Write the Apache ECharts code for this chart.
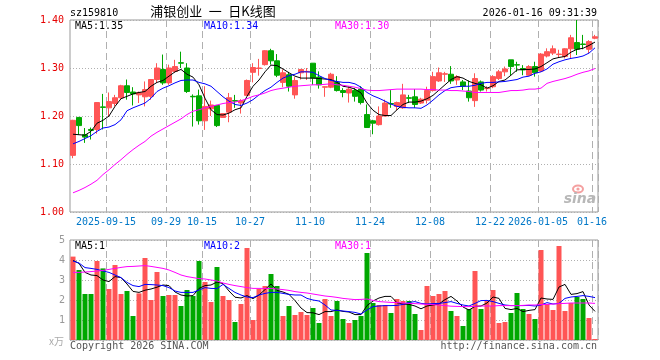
<!DOCTYPE html>
<html><head><meta charset="utf-8">
<script src="https://cdn.jsdelivr.net/npm/echarts@6/dist/echarts.min.js"></script>
<style>html,body{margin:0;padding:0;background:#fff}#c{width:660px;height:360px}</style>
</head><body><div id="c"></div>
<script>
var dates = ['2025-09-05','2025-09-08','2025-09-09','2025-09-10','2025-09-11','2025-09-12','2025-09-15','2025-09-16','2025-09-17','2025-09-18','2025-09-19','2025-09-22','2025-09-23','2025-09-24','2025-09-25','2025-09-26','2025-09-29','2025-09-30',
'2025-10-09','2025-10-10','2025-10-13','2025-10-14','2025-10-15','2025-10-16','2025-10-17','2025-10-20','2025-10-21','2025-10-22','2025-10-23','2025-10-24','2025-10-27','2025-10-28','2025-10-29','2025-10-30','2025-10-31',
'2025-11-03','2025-11-04','2025-11-05','2025-11-06','2025-11-07','2025-11-10','2025-11-11','2025-11-12','2025-11-13','2025-11-14','2025-11-17','2025-11-18','2025-11-19','2025-11-20','2025-11-21','2025-11-24','2025-11-25','2025-11-26','2025-11-27','2025-11-28',
'2025-12-01','2025-12-02','2025-12-03','2025-12-04','2025-12-05','2025-12-08','2025-12-09','2025-12-10','2025-12-11','2025-12-12','2025-12-15','2025-12-16','2025-12-17','2025-12-18','2025-12-19','2025-12-22','2025-12-23','2025-12-24','2025-12-25','2025-12-26','2025-12-29','2025-12-30','2025-12-31',
'2026-01-05','2026-01-06','2026-01-07','2026-01-08','2026-01-09','2026-01-12','2026-01-13','2026-01-14','2026-01-15','2026-01-16'];

var opens  = [1.118,1.197,1.161,1.172,1.172,1.219,1.217,1.226,1.238,1.263,1.250,1.244,1.240,1.241,1.276,1.297,1.269,1.293,1.311,1.300,1.241,1.242,1.190,1.215,1.222,
1.197,1.208,1.232,1.227,1.243,1.291,1.299,1.307,1.336,1.315,1.270,1.286,1.244,1.290,1.292,1.310,1.281,1.260,1.260,1.270,1.253,1.248,1.253,1.256,1.203,1.190,1.182,1.200,1.226,1.220,1.217,1.238,1.240,
1.227,1.233,1.253,1.273,1.287,1.287,1.275,1.271,1.252,1.232,1.271,1.257,1.261,1.278,1.292,1.317,1.307,1.299,1.285,1.303,1.294,1.325,1.331,1.328,1.324,1.340,1.353,1.350,1.339,1.362];
var closes = [1.191,1.180,1.156,1.170,1.228,1.218,1.230,1.238,1.263,1.249,1.246,1.249,1.255,1.276,1.300,1.269,1.300,1.303,1.310,1.251,1.240,1.190,1.220,1.223,1.180,
1.205,1.238,1.231,1.232,1.274,1.301,1.300,1.336,1.315,1.285,1.290,1.262,1.274,1.297,1.293,1.279,1.265,1.261,1.287,1.253,1.249,1.256,1.241,1.228,1.176,1.185,1.200,1.227,1.225,1.228,1.244,1.237,1.224,
1.235,1.253,1.282,1.290,1.288,1.273,1.282,1.262,1.238,1.278,1.254,1.258,1.282,1.292,1.298,1.303,1.306,1.296,1.303,1.290,1.329,1.334,1.340,1.329,1.340,1.363,1.339,1.349,1.355,1.365];
var lows   = [1.112,1.161,1.144,1.151,1.163,1.172,1.198,1.220,1.234,1.234,1.222,1.227,1.220,1.234,1.269,1.265,1.265,1.290,1.300,1.248,1.178,1.182,1.171,1.200,1.177,
1.196,1.187,1.217,1.205,1.242,1.270,1.284,1.305,1.307,1.281,1.260,1.251,1.236,1.276,1.275,1.265,1.257,1.240,1.258,1.251,1.239,1.228,1.230,1.224,1.175,1.162,1.180,1.199,1.217,1.212,1.215,1.227,1.217,
1.225,1.226,1.251,1.271,1.271,1.267,1.265,1.254,1.230,1.219,1.251,1.251,1.258,1.275,1.283,1.285,1.292,1.285,1.284,1.282,1.292,1.322,1.327,1.322,1.320,1.320,1.327,1.339,1.331,1.360];
var highs  = [1.192,1.198,1.175,1.176,1.229,1.246,1.249,1.244,1.265,1.276,1.260,1.251,1.272,1.277,1.310,1.328,1.307,1.317,1.334,1.310,1.245,1.255,1.262,1.232,1.223,
1.206,1.248,1.244,1.235,1.276,1.310,1.319,1.337,1.340,1.329,1.297,1.292,1.281,1.298,1.300,1.310,1.293,1.262,1.290,1.283,1.258,1.262,1.258,1.262,1.224,1.192,1.220,1.234,1.254,1.230,1.267,1.244,1.256,
1.238,1.261,1.292,1.301,1.292,1.304,1.285,1.275,1.274,1.289,1.274,1.262,1.285,1.296,1.303,1.317,1.313,1.306,1.306,1.313,1.331,1.341,1.347,1.338,1.341,1.369,1.400,1.369,1.358,1.369];

var ma5  = [1.162,1.161,1.160,1.168,1.185,1.191,1.200,1.220,1.236,1.241,1.246,1.249,1.251,1.262,1.270,1.274,1.283,1.292,1.297,1.287,1.281,1.265,1.237,1.213,1.203,
1.202,1.206,1.213,1.217,1.241,1.262,1.275,1.292,1.306,1.305,1.298,1.290,1.283,1.279,1.279,1.279,1.278,1.277,1.276,1.270,1.262,1.260,1.256,1.248,1.227,1.212,1.203,1.201,1.201,1.213,1.224,1.229,1.229,
1.231,1.236,1.243,1.254,1.265,1.276,1.282,1.279,1.272,1.268,1.265,1.258,1.263,1.272,1.275,1.285,1.296,1.297,1.297,1.298,1.303,1.311,1.319,1.322,1.324,1.333,1.339,1.341,1.347,1.354];
var ma10 = [1.142,1.147,1.153,1.159,1.168,1.175,1.177,1.182,1.192,1.211,1.217,1.222,1.227,1.237,1.251,1.258,1.263,1.269,1.274,1.275,1.275,1.270,1.267,1.262,1.251,
1.240,1.231,1.224,1.222,1.227,1.234,1.244,1.253,1.260,1.270,1.279,1.284,1.287,1.292,1.292,1.291,1.284,1.278,1.274,1.272,1.270,1.270,1.267,1.260,1.249,1.242,1.237,1.231,1.225,1.220,1.218,1.217,1.217,
1.216,1.223,1.233,1.244,1.253,1.259,1.261,1.262,1.262,1.264,1.268,1.270,1.270,1.271,1.272,1.274,1.276,1.281,1.283,1.289,1.292,1.298,1.308,1.313,1.317,1.320,1.322,1.325,1.331,1.342];
var ma30 = [1.040,1.045,1.051,1.058,1.066,1.078,1.088,1.099,1.109,1.120,1.130,1.139,1.147,1.158,1.166,1.173,1.180,1.187,1.194,1.203,1.210,1.213,1.217,1.220,1.223,
1.226,1.228,1.229,1.232,1.236,1.241,1.244,1.248,1.253,1.256,1.258,1.260,1.262,1.263,1.264,1.265,1.265,1.266,1.267,1.265,1.264,1.262,1.260,1.257,1.254,1.253,1.253,1.254,1.255,1.256,1.256,1.256,1.256,
1.256,1.255,1.255,1.254,1.254,1.253,1.253,1.252,1.251,1.249,1.249,1.249,1.249,1.249,1.251,1.253,1.253,1.254,1.256,1.256,1.258,1.268,1.272,1.275,1.278,1.282,1.287,1.291,1.294,1.299];

var volumes = [4.17,3.5,2.3,2.3,3.95,3.58,2.55,3.75,2.3,2.45,1.2,2.33,4.1,2.0,3.4,2.2,2.25,2.25,1.7,2.5,2.2,3.95,2.9,1.9,3.65,
2.2,2.0,0.9,1.8,4.6,1.0,2.55,2.7,3.3,2.7,1.2,1.7,1.25,1.4,1.25,1.6,0.85,2.05,1.2,1.95,1.05,0.85,1.0,1.2,4.35,1.85,1.75,1.75,1.35,2.05,1.95,1.95,1.3,
0.5,2.7,2.2,2.3,2.45,1.45,1.2,0.7,1.55,3.45,1.55,1.95,2.5,0.85,0.9,1.35,2.35,1.55,1.3,1.05,4.5,1.8,1.5,4.7,1.45,1.85,2.15,2.05,1.1,0.05];
var vma5  = [3.98,3.83,3.38,3.25,3.22,3.0,2.92,3.17,3.12,2.8,2.43,2.38,2.49,2.55,2.64,2.75,2.72,2.4,2.25,2.2,2.22,2.58,2.72,2.75,2.9,
2.82,2.45,2.14,2.1,2.22,2.07,2.25,2.52,2.8,2.48,2.4,2.28,1.97,1.6,1.37,1.36,1.27,1.42,1.42,1.5,1.43,1.4,1.27,1.27,1.72,1.95,2.1,2.18,2.18,1.86,1.8,1.78,1.7,
1.56,1.7,1.75,1.8,2.02,2.18,1.95,1.65,1.5,1.68,1.7,1.85,2.15,2.08,1.58,1.52,1.58,1.42,1.48,1.52,2.1,2.05,2.03,2.65,2.78,2.28,2.32,2.42,1.75,1.43];
var vma10 = [3.95,3.85,3.62,3.58,3.53,3.45,3.38,3.25,3.12,2.88,2.72,2.67,2.78,2.77,2.75,2.72,2.62,2.45,2.38,2.38,2.38,2.5,2.62,2.58,2.57,
2.78,2.58,2.38,2.25,2.15,2.12,2.25,2.33,2.38,2.38,2.33,2.28,2.25,2.25,2.08,2.0,1.95,1.75,1.5,1.48,1.45,1.42,1.38,1.3,1.5,1.67,1.7,1.72,1.72,1.73,1.78,1.88,1.92,
1.83,1.8,1.82,1.83,1.87,1.92,1.83,1.75,1.7,1.83,1.97,1.98,1.92,1.83,1.75,1.72,1.72,1.72,1.73,1.7,1.75,1.87,1.8,1.83,2.08,2.15,2.18,2.22,2.18,2.12];
var vma30 = [3.38,3.38,3.4,3.42,3.45,3.48,3.53,3.58,3.63,3.67,3.68,3.7,3.72,3.68,3.63,3.58,3.5,3.38,3.25,3.17,3.12,3.07,3.05,3.0,2.95,
2.85,2.78,2.72,2.67,2.62,2.58,2.58,2.58,2.58,2.55,2.52,2.48,2.42,2.38,2.35,2.3,2.25,2.2,2.17,2.13,2.08,2.05,2.02,2.03,2.05,1.98,1.92,1.9,1.88,1.87,1.85,1.83,1.82,
1.8,1.78,1.77,1.75,1.72,1.69,1.68,1.67,1.67,1.68,1.7,1.7,1.7,1.72,1.72,1.72,1.72,1.73,1.75,1.75,1.77,1.78,1.8,1.82,1.83,1.85,1.85,1.85,1.85,1.83];

var tickDates  = ['2025-09-15','2025-09-29','2025-10-15','2025-10-27','2025-11-10','2025-11-24','2025-12-08','2025-12-22','2026-01-05','2026-01-16'];
var tickLabels = ['2025-09-15','09-29','10-15','10-27','11-10','11-24','12-08','12-22','2026-01-05','01-16'];
var priceTicks = [1.00,1.10,1.20,1.30,1.40];
var volTicks = [0,1,2,3,4,5];

var RED = '#ff5555', GREEN = '#00a800';
var MONO = '"DejaVu Sans Mono", "Liberation Mono", monospace';
var kdata = dates.map(function(d,i){ return [opens[i], closes[i], lows[i], highs[i]]; });
function isTick(idx){ return tickDates.indexOf(dates[idx]) >= 0; }
function isUp(i){ return closes[i] >= opens[i]; }

var chart = echarts.init(document.getElementById('c'), null, {renderer:'canvas'});
var vsplit = {show:true, interval:function(i){return isTick(i);}, lineStyle:{color:'#b0b0b0', type:[7,4], width:1}};
var hsplit = {show:true, lineStyle:{color:'#b0b0b0', type:[1,2], width:1}};
function mkLine(data, color, xi, yi){
  return {type:'line', data:data, xAxisIndex:xi, yAxisIndex:yi, showSymbol:false, symbol:'none', silent:true,
    lineStyle:{color:color, width:1}, itemStyle:{color:color}, z:5};
}
function txt(x, y, s, color, align, font){
  return {type:'text', x:x, y:y, silent:true, z:100, style:{text:s, fill:color, align:align||'left', verticalAlign:'middle', font:font||('10px ' + MONO)}};
}

chart.setOption({
  animation:false,
  backgroundColor:'#fff',
  grid:[
    {left:70, top:20, width:528, height:192, show:true, borderColor:'#999', borderWidth:1, backgroundColor:'transparent'},
    {left:70, top:240, width:528, height:100, show:true, borderColor:'#999', borderWidth:1, backgroundColor:'transparent'}
  ],
  xAxis:[
    {type:'category', gridIndex:0, data:dates, boundaryGap:true,
     axisLine:{show:false}, axisTick:{show:false},
     axisLabel:{interval:function(i){return isTick(i);}, margin:5,
       formatter:function(v){ var k = tickDates.indexOf(v); return '{a|' + (k>=0 ? tickLabels[k] : '') + '}'; },
       rich:{a:{padding:[0,6,0,0], fontSize:10, fontFamily:MONO, color:'#0078c8'}},
       fontSize:10, fontFamily:MONO, color:'#0078c8'},
     splitLine:vsplit},
    {type:'category', gridIndex:1, data:dates, boundaryGap:true,
     axisLine:{show:false}, axisTick:{show:false}, axisLabel:{show:false},
     splitLine:vsplit}
  ],
  yAxis:[
    {type:'value', gridIndex:0, min:priceTicks[0], max:priceTicks[priceTicks.length-1], interval:0.1,
     axisLine:{show:false}, axisTick:{show:false},
     axisLabel:{color:'#e60000', fontSize:10, fontFamily:MONO, margin:6, formatter:function(v){return v.toFixed(2);}},
     splitLine:hsplit},
    {type:'value', gridIndex:1, min:volTicks[0], max:volTicks[volTicks.length-1], interval:1,
     axisLine:{show:false}, axisTick:{show:false},
     axisLabel:{color:'#999', fontSize:10, fontFamily:MONO, margin:5, formatter:function(v){return v===0 ? '' : String(v);}},
     splitLine:hsplit}
  ],
  series:[
    {type:'candlestick', xAxisIndex:0, yAxisIndex:0, data:kdata, barWidth:5, silent:true,
     itemStyle:{color:RED, color0:GREEN, borderColor:RED, borderColor0:GREEN, borderWidth:1}, z:3},
    mkLine(ma5,'#000000',0,0),
    mkLine(ma10,'#0000ff',0,0),
    mkLine(ma30,'#ff00ff',0,0),
    {type:'bar', xAxisIndex:1, yAxisIndex:1, data:volumes, barWidth:5, silent:true,
     itemStyle:{color:function(p){ return isUp(p.dataIndex) ? RED : GREEN; }}, z:3},
    mkLine(vma5,'#000000',1,1),
    mkLine(vma10,'#0000ff',1,1),
    mkLine(vma30,'#ff00ff',1,1)
  ],
  graphic:[
    txt(70, 13, 'sz159810', '#000'),
    txt(213, 11, '浦银创业\u2002一\u2002日K线图', '#000', 'center', '13px "Noto Sans CJK SC", sans-serif'),
    txt(597, 13, '2026-01-16 09:31:39', '#000', 'right'),
    txt(75, 26, 'MA5:1.35', '#000'),
    txt(204, 26, 'MA10:1.34', '#0000ff'),
    txt(335, 26, 'MA30:1.30', '#ff00ff'),
    txt(75, 246, 'MA5:1', '#000'),
    txt(204, 246, 'MA10:2', '#0000ff'),
    txt(335, 246, 'MA30:1', '#ff00ff'),
    txt(64, 341, 'x万', '#aaa', 'right', '10px "Noto Sans CJK SC", sans-serif'),
    txt(70, 346, 'Copyright 2026 SINA.COM', '#555'),
    txt(597, 346, 'http://finance.sina.com.cn', '#555', 'right'),
    {type:'ellipse', shape:{cx:578, cy:189, rx:5, ry:3.5}, silent:true, z:100, style:{fill:'none', stroke:'#f4a0a0', lineWidth:2}},
    {type:'circle', shape:{cx:578, cy:189, r:1.6}, silent:true, z:100, style:{fill:'#f4a0a0'}},
    txt(580, 199, 'sina', '#b8b8b8', 'center', 'italic bold 14px "DejaVu Sans", sans-serif')
  ]
});
</script></body></html>
